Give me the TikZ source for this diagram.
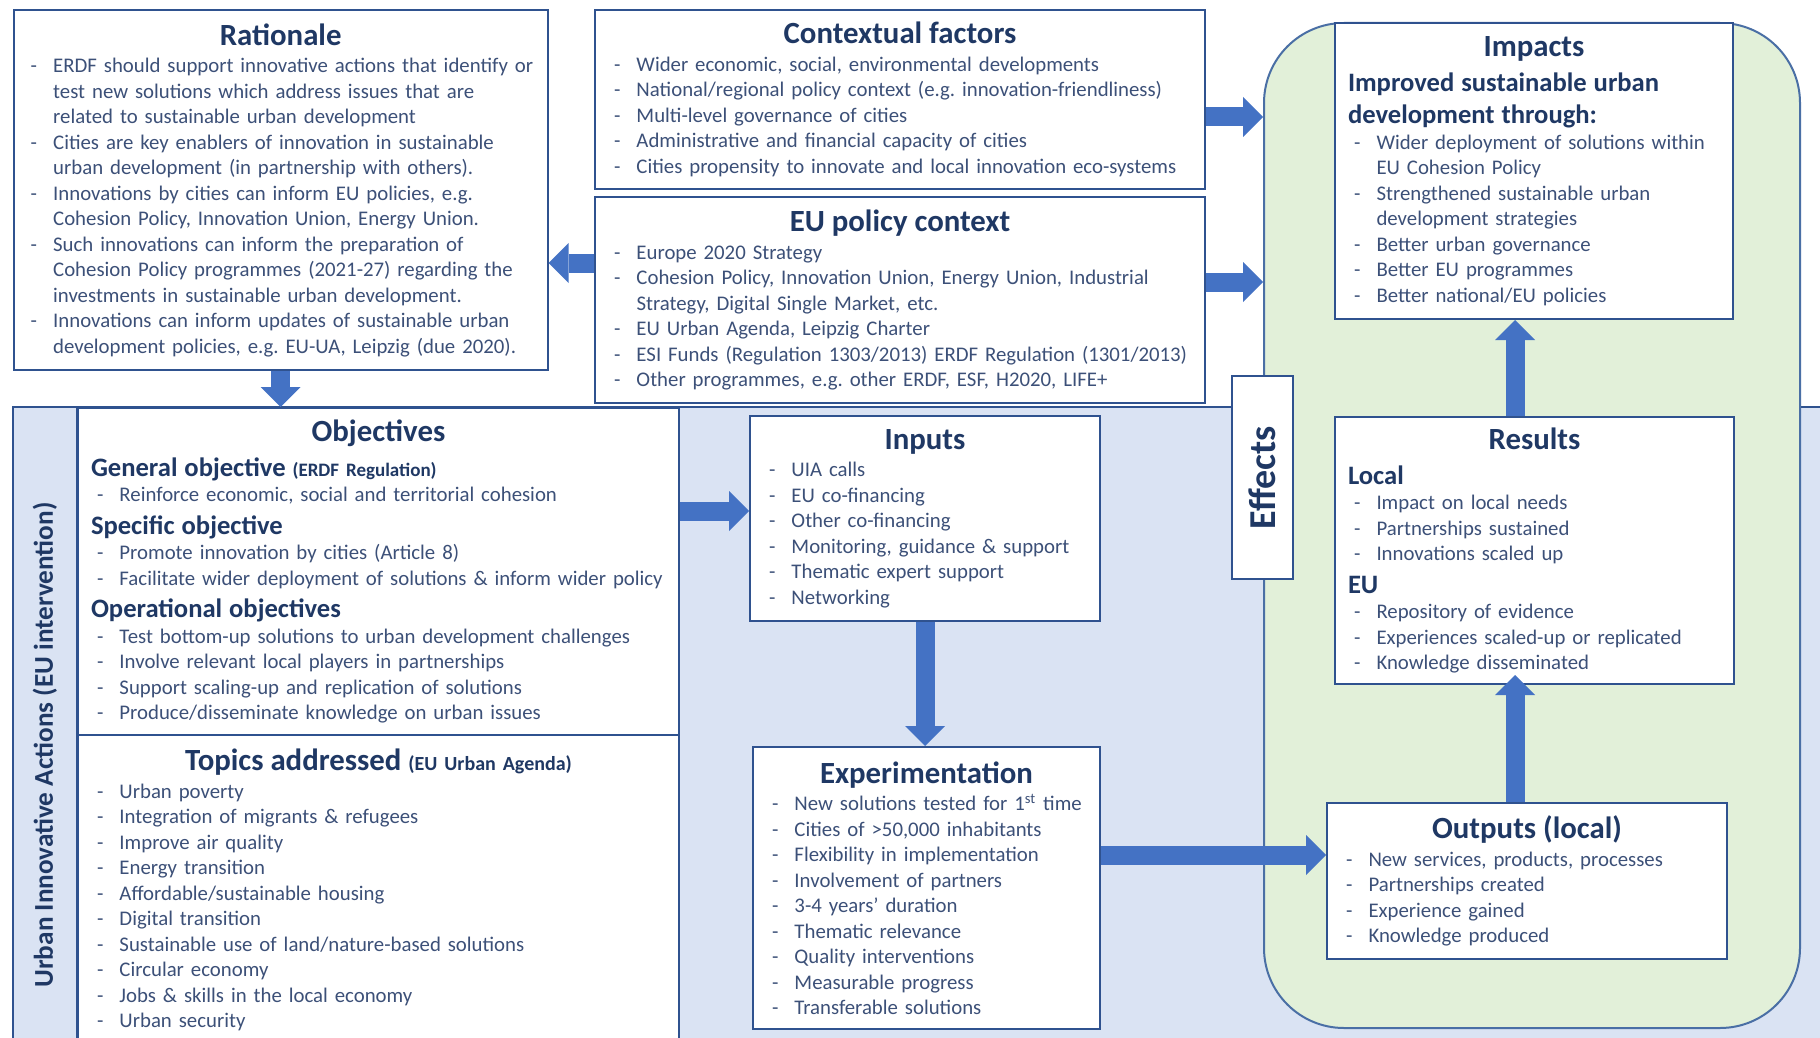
\documentclass[tikz,border=0pt]{standalone}
\usepackage{fontspec}
\setmainfont{Carlito}
\usetikzlibrary{arrows.meta}

\definecolor{boxline}{HTML}{2F528F}
\definecolor{titletxt}{HTML}{1F3864}
\definecolor{bodytxt}{HTML}{3C5078}
\definecolor{arrowblue}{HTML}{4472C4}
\definecolor{bandblue}{HTML}{DAE3F3}
\definecolor{areagreen}{HTML}{E2F0D9}
\definecolor{areaedge}{HTML}{4A6FA5}

% box title, sub heading and one dash item
\newcommand{\ttl}[1]{{\centering\fontsize{15.4}{18}\selectfont\bfseries\color{titletxt}#1\par}\vspace{1pt}}
\newcommand{\hd}[1]{{\fontsize{13.3}{16.25}\selectfont\bfseries\color{titletxt}#1\par}}
\newcommand{\itm}[1]{\hangindent=14.25pt\hangafter=1\noindent\makebox[14.25pt][l]{\hspace{3pt}-}#1\par}

\tikzset{
  panel/.style={draw=boxline, line width=1pt, fill=white, anchor=north west,
    inner xsep=6.5pt, inner ysep=2pt, text=bodytxt,
    font=\fontsize{10.4}{12.75}\selectfont,
    execute at begin node={\raggedright\frenchspacing}},
  sidelabel/.style={draw=boxline, line width=1pt, rotate=90, inner sep=0pt,
    text=titletxt},
  blockarrow/.style={draw=arrowblue, line width=9.5pt,
    -{Triangle[width=20pt,length=10pt,line width=0pt]}},
}

\begin{document}
\begin{tikzpicture}[x=0.5pt, y=-0.5pt]
	\fill[white] (0,0) rectangle (1820,1038);
	\useasboundingbox (0,0) rectangle (1820,1038);

	% intervention band and effects area
	\filldraw[fill=bandblue, draw=boxline, line width=1pt] (12.7,407) rectangle (1840,1100);
	\node[sidelabel, fill=bandblue, minimum width=338pt, minimum height=32.15pt,
		font=\fontsize{13.6}{15}\selectfont\bfseries] (uia) at (44.85,745)
		{Urban Innovative Actions (EU intervention)};
	\node[draw=areaedge, line width=1pt, fill=areagreen, rounded corners=40pt,
		anchor=north west, minimum width=268pt, minimum height=502.5pt] (effarea) at (1263,22) {};

	\node[panel, inner xsep=5.5pt, text width=256pt, minimum height=180pt] (rat) at (12.7,9) {
		\ttl{Rationale}
		\itm{ERDF should support innovative actions that identify or\newline test new solutions which address issues that are\newline related to sustainable urban development}
		\itm{Cities are key enablers of innovation in sustainable\newline urban development (in partnership with others).}
		\itm{Innovations by cities can inform EU policies, e.g.\newline Cohesion Policy, Innovation Union, Energy Union.}
		\itm{Such innovations can inform the preparation of\newline Cohesion Policy programmes (2021-27) regarding the\newline investments in sustainable urban development.}
		\itm{Innovations can inform updates of sustainable urban\newline development policies, e.g. EU-UA, Leipzig (due 2020).}
	};
	\node[panel, text width=292pt, minimum height=89.5pt] (ctx) at (594,9) {
		\ttl{Contextual factors}
		\itm{Wider economic, social, environmental developments}
		\itm{National/regional policy context (e.g. innovation-friendliness)}
		\itm{Multi-level governance of cities}
		\itm{Administrative and financial capacity of cities}
		\itm{Cities propensity to innovate and local innovation eco-systems}
	};
	\node[panel, text width=292pt, minimum height=103pt] (pol) at (594,196) {
		\ttl{EU policy context}
		\itm{Europe 2020 Strategy}
		\itm{Cohesion Policy, Innovation Union, Energy Union, Industrial\newline Strategy, Digital Single Market, etc.}
		\itm{EU Urban Agenda, Leipzig Charter}
		\itm{ESI Funds (Regulation 1303/2013) ERDF Regulation (1301/2013)}
		\itm{Other programmes, e.g. other ERDF, ESF, H2020, LIFE+}
	};

	\node[panel, text width=287.5pt, minimum height=163.5pt] (obj) at (77,407) {
		\ttl{Objectives}
		\hd{General objective {\fontsize{9.5}{12}\selectfont(ERDF Regulation)}}
		\itm{Reinforce economic, social and territorial cohesion}
		\hd{Specific objective}
		\itm{Promote innovation by cities (Article 8)}
		\itm{Facilitate wider deployment of solutions \& inform wider policy}
		\hd{Operational objectives}
		\itm{Test bottom-up solutions to urban development challenges}
		\itm{Involve relevant local players in partnerships}
		\itm{Support scaling-up and replication of solutions}
		\itm{Produce/disseminate knowledge on urban issues}
	};
	\node[panel, text width=287.5pt, minimum height=155pt] (top) at (77,734) {
		\ttl{Topics addressed {\fontsize{10}{12}\selectfont(EU Urban Agenda)}}
		\itm{Urban poverty}
		\itm{Integration of migrants \& refugees}
		\itm{Improve air quality}
		\itm{Energy transition}
		\itm{Affordable/sustainable housing}
		\itm{Digital transition}
		\itm{Sustainable use of land/nature-based solutions}
		\itm{Circular economy}
		\itm{Jobs \& skills in the local economy}
		\itm{Urban security}
	};

	\node[panel, text width=162pt, minimum height=102.5pt] (inp) at (749,415) {
		\ttl{Inputs}
		\itm{UIA calls}
		\itm{EU co-financing}
		\itm{Other co-financing}
		\itm{Monitoring, guidance \& support}
		\itm{Thematic expert support}
		\itm{Networking}
	};
	\node[panel, text width=160.5pt, minimum height=141pt] (exp) at (752,746) {
		\ttl{Experimentation}
		\itm{New solutions tested for 1\textsuperscript{st} time}
		\itm{Cities of >50,000 inhabitants}
		\itm{Flexibility in implementation}
		\itm{Involvement of partners}
		\itm{3-4 years’ duration}
		\itm{Thematic relevance}
		\itm{Quality interventions}
		\itm{Measurable progress}
		\itm{Transferable solutions}
	};

	\node[sidelabel, fill=white, minimum width=101.5pt, minimum height=30.5pt,
		font=\fontsize{19}{22}\selectfont\bfseries] (eff) at (1262.5,477.5) {Effects};

	\node[panel, text width=186pt, minimum height=148pt] (imp) at (1334,22) {
		\ttl{Impacts}
		\hd{Improved sustainable urban\newline development through:}
		\itm{Wider deployment of solutions within\newline EU Cohesion Policy}
		\itm{Strengthened sustainable urban\newline development strategies}
		\itm{Better urban governance}
		\itm{Better EU programmes}
		\itm{Better national/EU policies}
	};
	\node[panel, text width=186.5pt, minimum height=133.5pt] (res) at (1334,416) {
		\ttl{Results}
		\hd{Local}
		\itm{Impact on local needs}
		\itm{Partnerships sustained}
		\itm{Innovations scaled up}
		\hd{EU}
		\itm{Repository of evidence}
		\itm{Experiences scaled-up or replicated}
		\itm{Knowledge disseminated}
	};
	\node[panel, text width=187pt, minimum height=78pt] (out) at (1326,802) {
		\ttl{Outputs (local)}
		\itm{New services, products, processes}
		\itm{Partnerships created}
		\itm{Experience gained}
		\itm{Knowledge produced}
	};

	% arrow levels
	\coordinate (lvl-back) at (0,263);
	\coordinate (lvl-ctx) at (0,117);
	\coordinate (lvl-pol) at (0,282);
	\coordinate (lvl-obj) at (0,511);
	\coordinate (lvl-exp) at (0,855);
	\coordinate (col-eff) at (1515,0);

	\draw[blockarrow] (rat.south) -- (rat.south |- obj.north);
	\draw[blockarrow] (pol.west |- lvl-back) -- (rat.east |- lvl-back);
	\foreach \src/\lvl in {ctx/lvl-ctx, pol/lvl-pol} {
		\draw[blockarrow] (\src.east |- \lvl) -- (effarea.west |- \lvl);
	}
	\draw[blockarrow] (obj.east |- lvl-obj) -- (inp.west |- lvl-obj);
	\draw[blockarrow] (inp.south) -- (inp.south |- exp.north);
	\draw[blockarrow] (exp.east |- lvl-exp) -- (out.west |- lvl-exp);
	\draw[blockarrow, shorten >=-5pt] (out.north -| col-eff) -- (res.south -| col-eff);
	\draw[blockarrow] (res.north -| col-eff) -- (imp.south -| col-eff);
\end{tikzpicture}
\end{document}
